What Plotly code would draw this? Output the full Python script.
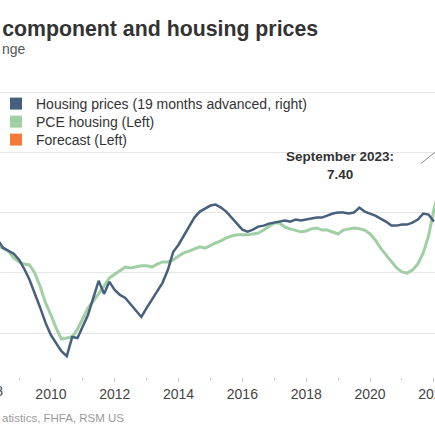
import pandas as pd
import plotly.graph_objects as go

# ---------------- data ----------------
# bimonthly observation dates, May 2008 .. Jan 2022
dates = pd.date_range("2008-05-01", periods=83, freq="2MS")

# Housing prices, y/y % change, 19 months advanced (right axis)
housing_prices = [
    3.3, 2.5, 2.2, 1.9, 1.3, 0.4, -0.7, -2.0, -3.5, -5.0,
    -6.2, -7.0, -7.8, -8.3, -6.4, -6.5, -5.4, -4.2, -2.5, -0.8,
    -2.1, -0.9, -1.7, -2.2, -2.5, -3.1, -3.7, -4.4, -3.5, -2.7,
    -1.9, -1.0, 0.3, 2.1, 2.8, 3.7, 4.5, 5.5, 6.1, 6.4,
    6.7, 6.8, 6.5, 6.1, 5.5, 4.8, 4.3, 4.1, 4.3, 4.6,
    4.7, 4.9, 5.0, 5.1, 5.2, 5.1, 5.3, 5.2, 5.3, 5.4,
    5.5, 5.5, 5.7, 5.9, 6.0, 6.0, 5.9, 6.0, 6.5, 6.1,
    5.9, 5.7, 5.4, 5.1, 4.7, 4.7, 4.8, 4.8, 5.0, 5.3,
    5.9, 5.8, 5.1,
]

# PCE housing, y/y % change (left axis); last value is Mar 2022
pce_dates = list(dates) + [pd.Timestamp("2022-03-01")]
pce_housing = [
    2.89, 2.82, 2.72, 2.49, 2.36, 2.29, 2.26, 1.99, 1.53, 1.00,
    0.60, 0.17, -0.20, -0.17, -0.13, 0.13, 0.50, 0.83, 1.06, 1.30,
    1.56, 1.83, 1.96, 2.09, 2.19, 2.16, 2.19, 2.23, 2.23, 2.19,
    2.29, 2.36, 2.36, 2.43, 2.56, 2.66, 2.72, 2.79, 2.86, 2.82,
    2.92, 2.99, 3.06, 3.16, 3.22, 3.26, 3.26, 3.26, 3.29, 3.32,
    3.42, 3.55, 3.65, 3.65, 3.52, 3.46, 3.42, 3.36, 3.39, 3.46,
    3.49, 3.42, 3.42, 3.36, 3.29, 3.42, 3.46, 3.49, 3.46, 3.42,
    3.29, 3.09, 2.82, 2.59, 2.36, 2.16, 2.03, 1.99, 2.09, 2.29,
    2.66, 3.22, 4.09, 4.75,
]

# latest-value callout
callout_date = "2023-09-15"
callout_value = 7.40
callout_text = "<b>September 2023:</b><br><b>7.40</b>"

legend_names = ["Housing prices (19 months advanced, right)",
                "PCE housing (Left)",
                "Forecast (Left)"]

x_range = ["2008-05-28", "2022-01-14"]
y_left_range = [-1.46, 8.07]
y_right_range = [-10.38, 18.21]

BLUE = "#46607e"
GREEN = "#a0cfa4"
ORANGE = "#f47b3c"
FONT = "Liberation Sans, Arial, sans-serif"

W, H = 435, 435
M_T, M_B = 90, 58
PLOT_H = H - M_T - M_B

fig = go.Figure()

fig.add_trace(go.Scatter(
    x=dates, y=housing_prices, mode="lines", yaxis="y2",
    line=dict(color=BLUE, width=2.5), showlegend=False,
    name=legend_names[0],
))
fig.add_trace(go.Scatter(
    x=pce_dates, y=pce_housing, mode="lines", yaxis="y",
    line=dict(color=GREEN, width=3), showlegend=False,
    name=legend_names[1],
))

# legend entries (square swatches), one small legend per row
legend_keys = ["legend", "legend2", "legend3"]
for key, name, col in zip(legend_keys, legend_names, [BLUE, GREEN, ORANGE]):
    fig.add_trace(go.Scatter(
        x=[None], y=[None], mode="markers", name=name, legend=key,
        marker=dict(symbol="square", size=13, color=col),
    ))

legend_style = dict(
    xanchor="left", yanchor="middle", bgcolor="rgba(255,255,255,0)",
    borderwidth=0, font=dict(family=FONT, size=14, color="#333333"),
    itemsizing="constant",
)
row_centres = [104, 122, 140]  # pixel centres of the legend rows
legend_layout = {}
for key, yc in zip(legend_keys, row_centres):
    legend_layout[key] = dict(legend_style, x=-4 / W,
                              y=1 - (yc - M_T) / PLOT_H)

# callout label and leader line
fig.add_annotation(
    x="2019-01-20", y=5.55, xref="x", yref="y", text=callout_text,
    showarrow=False, font=dict(family=FONT, size=13.5, color="#333333"),
    align="center",
)
fig.add_shape(
    type="line", xref="x", yref="y",
    x0="2021-08-01", y0=5.62, x1=callout_date, y1=callout_value,
    line=dict(color="#8c8c8c", width=1),
)

# title / subtitle / source (visible parts of the cropped reference)
fig.add_annotation(
    x=0.0, y=1 + (M_T - 49) / PLOT_H, xref="paper", yref="paper",
    xanchor="left", yanchor="middle",
    text="nge", showarrow=False, font=dict(family=FONT, size=14, color="#555555"),
)
fig.add_annotation(
    x=0.0, y=-(418 - (H - M_B)) / PLOT_H, xref="paper", yref="paper",
    xanchor="left", yanchor="middle",
    text="atistics, FHFA, RSM US", showarrow=False,
    font=dict(family=FONT, size=11.5, color="#9a9a9a"),
)
fig.add_annotation(
    x=-13 / W, y=-(391 - (H - M_B)) / PLOT_H, xref="paper", yref="paper",
    xanchor="center", yanchor="middle",
    text="2008", showarrow=False, font=dict(family=FONT, size=14, color="#444444"),
)

fig.update_layout(
    width=W, height=H,
    margin=dict(l=0, r=0, t=M_T, b=M_B, autoexpand=False),
    paper_bgcolor="white", plot_bgcolor="white",
    font=dict(family=FONT, color="#333333"),
    title=dict(
        text="<b>component and housing prices</b>",
        x=0.005, xref="paper", xanchor="left",
        y=1 - 29 / H, yref="container", yanchor="middle",
        font=dict(family=FONT, size=21.3, color="#333333"),
    ),
    xaxis=dict(
        type="date", range=x_range, tickformat="%Y", dtick="M24",
        tick0="2010-01-01", ticks="outside", ticklen=4, tickcolor="#c8c8c8",
        showgrid=False, showline=False, zeroline=False,
        tickfont=dict(family=FONT, size=14, color="#444444"),
        ticklabeloverflow="allow", automargin=False,
        minor=dict(dtick="M12", tick0="2009-01-01", ticks="outside",
                   ticklen=2, tickcolor="#c8c8c8", showgrid=False),
    ),
    yaxis=dict(
        range=y_left_range, dtick=2, tick0=0, showgrid=True,
        gridcolor="#e6e6e6", gridwidth=1, zeroline=False,
        showticklabels=False, ticks="", showline=False, automargin=False,
    ),
    yaxis2=dict(
        range=y_right_range, overlaying="y", side="right",
        showgrid=False, zeroline=False, showticklabels=False, ticks="",
        automargin=False,
    ),
    **legend_layout,
)

fig.write_html(
    "out.html",
    config={"displayModeBar": False},
    post_script="document.body.style.margin='0';document.body.style.padding='0';",
)
